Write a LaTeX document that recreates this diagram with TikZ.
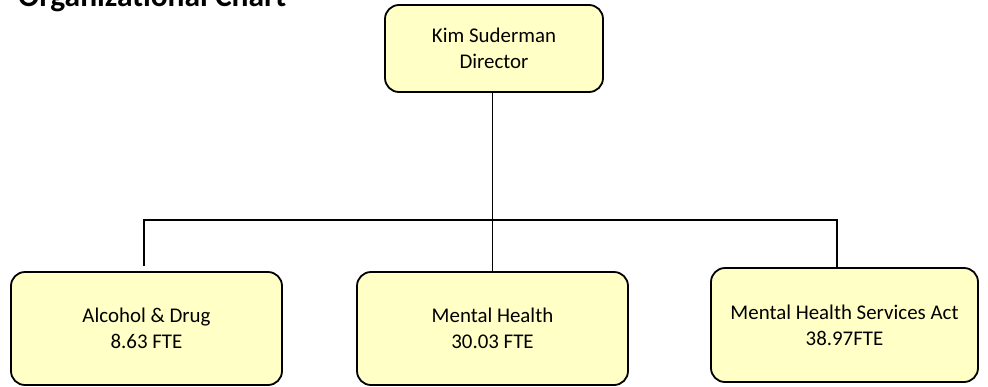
\documentclass[tikz,border=0pt]{standalone}
\usepackage{fontspec}
\setmainfont{Carlito}
\begin{document}
\begin{tikzpicture}[x=1pt,y=-1pt,
  box/.style={draw=black,line width=1.8pt,rounded corners=14pt,fill=boxfill,
    align=center,font=\fontsize{20.9}{26}\selectfont,inner sep=0pt},
  conn/.style={draw=black,line width=1.8pt}]
\definecolor{boxfill}{HTML}{FFFFC6}
\clip (0,0) rectangle (988,386);
\fill[white] (0,0) rectangle (988,386);
\node[anchor=base west,font=\fontsize{31.5}{36}\selectfont\bfseries,inner sep=0pt] (title) at (18,6.5) {Organizational Chart};
\node[box,minimum width=218pt,minimum height=87pt] (dir) at (494,48.5) {Kim Suderman\\Director};
\node[box,minimum width=271pt,minimum height=113pt] (ad) at (146.5,328.5) {Alcohol \& Drug\\8.63 FTE};
\node[box,minimum width=271pt,minimum height=113pt] (mh) at (492.5,328.5) {Mental Health\\30.03 FTE};
\node[box,minimum width=267pt,minimum height=114pt] (mhsa) at (844.5,325) {Mental Health Services Act\\38.97FTE};
\coordinate (busL) at (144,220);
\coordinate (busR) at (837,220);
\coordinate (adEnd) at (144,266);
\draw[conn] (dir.south -| mh.north) -- (mh.north);
\draw[conn] (adEnd) -- (busL) -- (busR) -- (busR |- mhsa.north);
\end{tikzpicture}
\end{document}
